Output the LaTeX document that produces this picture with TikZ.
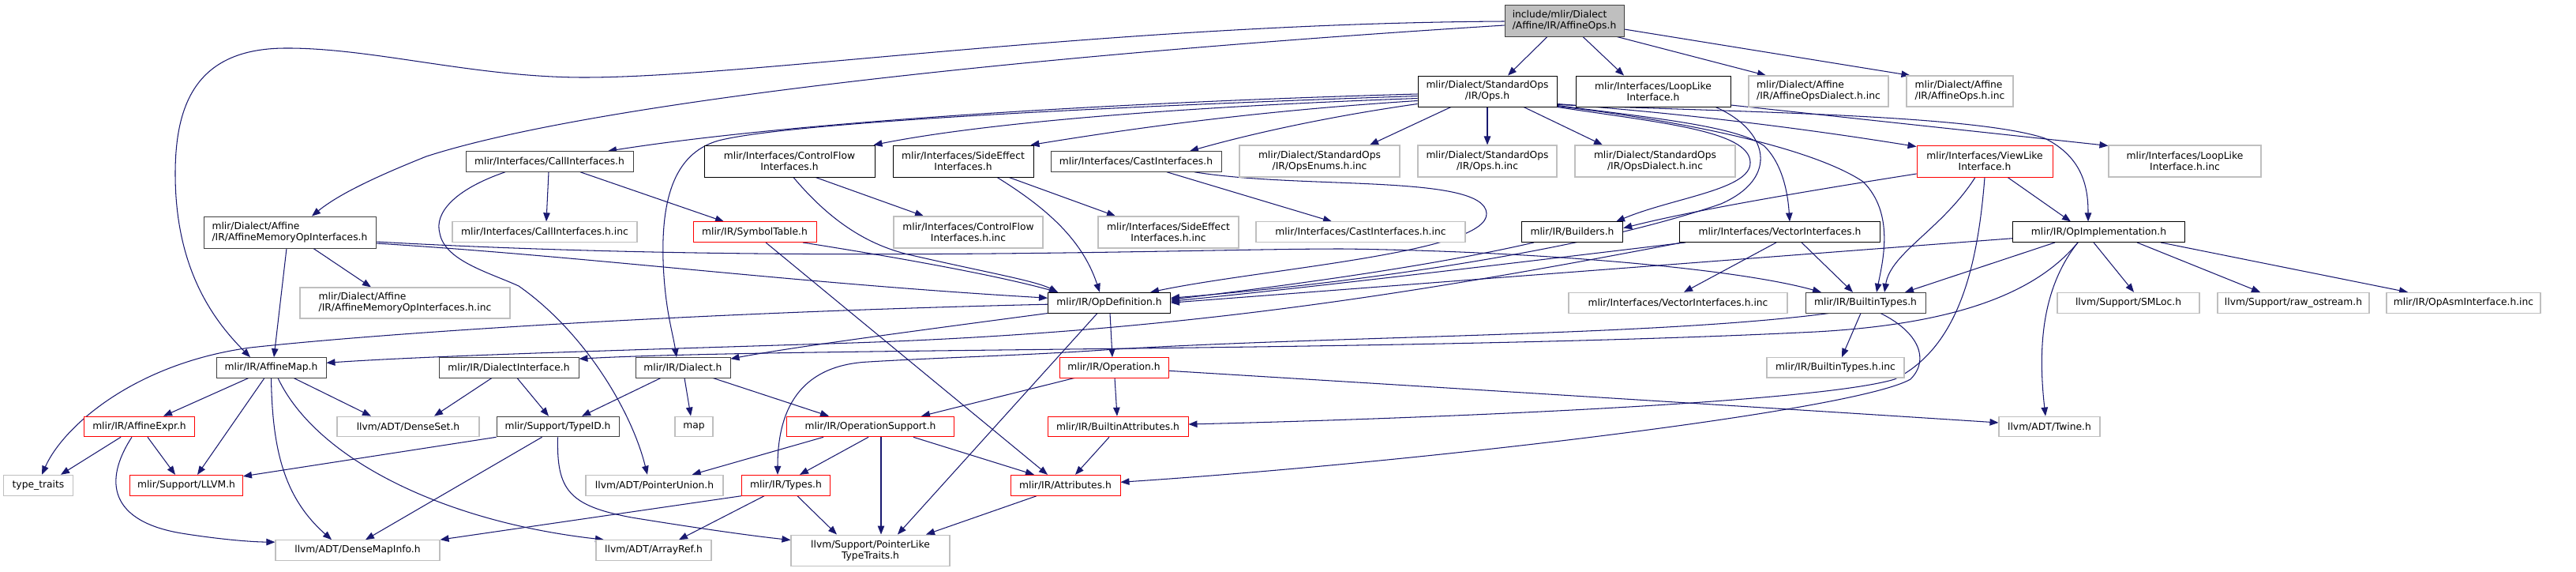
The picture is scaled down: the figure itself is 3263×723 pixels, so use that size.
\documentclass[tikz,border=0pt]{standalone}
\usepackage{fontspec}
\setmainfont{DejaVu Sans}
\usetikzlibrary{arrows.meta}
\definecolor{edgec}{HTML}{191970}
\definecolor{grayb}{HTML}{BFBFBF}
\definecolor{darkb}{HTML}{404040}
\pgfdeclarelayer{bglayer}
\pgfdeclarelayer{edgelayer}
\pgfsetlayers{bglayer,edgelayer,main}
\begin{document}
\begin{tikzpicture}[x=1pt,y=-1pt,
  box/.style={rectangle, inner sep=0pt, line width=0.9pt, fill=white, text=black,
    font=\fontsize{12.3}{14}\selectfont, align=center},
  blk/.style={box, draw=black},
  dkb/.style={box, draw=darkb},
  gry/.style={box, draw=grayb, line width=1.1pt},
  rdb/.style={box, draw=red},
  e/.style={draw=edgec, line width=1.05pt, -{Triangle[length=11pt,width=8.5pt]}}]
\useasboundingbox (0,0) rectangle (3263,723);
\begin{pgfonlayer}{bglayer}
\fill[white] (0,0) rectangle (3263,723);
\end{pgfonlayer}

% row 0
\node[dkb, fill=grayb, minimum width=151pt, minimum height=40pt, align=left] (root) at (1981.5,26) {include/mlir/Dialect\\/Affine/IR/AffineOps.h};
% row 1
\node[blk, minimum width=176pt, minimum height=39pt] (ops) at (1884,115.5) {mlir/Dialect/StandardOps\\/IR/Ops.h};
\node[blk, minimum width=196pt, minimum height=39pt] (looplike) at (2094,115.5) {mlir/Interfaces/LoopLike\\Interface.h};
\node[gry, minimum width=177pt, minimum height=39pt, align=left] (affdialinc) at (2303.5,115.5) {mlir/Dialect/Affine\\/IR/AffineOpsDialect.h.inc};
\node[gry, minimum width=135pt, minimum height=39pt, align=left] (affopsinc) at (2482.5,115.5) {mlir/Dialect/Affine\\/IR/AffineOps.h.inc};
% row 2
\node[dkb, minimum width=212pt, minimum height=25.6pt] (callif) at (696,204.5) {mlir/Interfaces/CallInterfaces.h};
\node[blk, minimum width=216pt, minimum height=40pt] (cfif) at (1000,204) {mlir/Interfaces/ControlFlow\\Interfaces.h};
\node[blk, minimum width=178pt, minimum height=40pt] (seif) at (1220,204) {mlir/Interfaces/SideEffect\\Interfaces.h};
\node[dkb, minimum width=216pt, minimum height=25.6pt] (castif) at (1439,204.5) {mlir/Interfaces/CastInterfaces.h};
\node[gry, minimum width=203pt, minimum height=40pt] (enumsinc) at (1671.5,204) {mlir/Dialect/StandardOps\\/IR/OpsEnums.h.inc};
\node[gry, minimum width=176pt, minimum height=40pt] (opsinc) at (1884,204) {mlir/Dialect/StandardOps\\/IR/Ops.h.inc};
\node[gry, minimum width=203pt, minimum height=40pt] (opsdialinc) at (2096.5,204) {mlir/Dialect/StandardOps\\/IR/OpsDialect.h.inc};
\node[rdb, minimum width=172pt, minimum height=40pt] (viewlike) at (2514,204) {mlir/Interfaces/ViewLike\\Interface.h};
\node[gry, minimum width=193pt, minimum height=40pt] (looplikeinc) at (2767.5,204) {mlir/Interfaces/LoopLike\\Interface.h.inc};
% row 3
\node[dkb, minimum width=218pt, minimum height=40pt, align=left] (affmem) at (367,294) {mlir/Dialect/Affine\\/IR/AffineMemoryOpInterfaces.h};
\node[gry, minimum width=234pt, minimum height=25.6pt] (callinc) at (690,293.7) {mlir/Interfaces/CallInterfaces.h.inc};
\node[rdb, minimum width=156pt, minimum height=25.6pt] (symtab) at (956,293.7) {mlir/IR/SymbolTable.h};
\node[gry, minimum width=189pt, minimum height=40pt] (cfinc) at (1226.5,294) {mlir/Interfaces/ControlFlow\\Interfaces.h.inc};
\node[gry, minimum width=178pt, minimum height=40pt] (seinc) at (1480,294) {mlir/Interfaces/SideEffect\\Interfaces.h.inc};
\node[gry, minimum width=265pt, minimum height=25.6pt] (castinc) at (1723.5,293.7) {mlir/Interfaces/CastInterfaces.h.inc};
\node[blk, minimum width=128.5pt, minimum height=25.6pt] (builders) at (1991.5,293.7) {mlir/IR/Builders.h};
\node[blk, minimum width=254.5pt, minimum height=25.6pt] (vecif) at (2254.5,293.7) {mlir/Interfaces/VectorInterfaces.h};
\node[blk, minimum width=217.5pt, minimum height=25.6pt] (opimpl) at (2658.5,293.7) {mlir/IR/OpImplementation.h};
% row 4
\node[gry, minimum width=266pt, minimum height=39pt, align=left] (affmeminc) at (513,383.5) {mlir/Dialect/Affine\\/IR/AffineMemoryOpInterfaces.h.inc};
\node[blk, minimum width=155pt, minimum height=25.7pt] (opdef) at (1405,383.2) {mlir/IR/OpDefinition.h};
\node[gry, minimum width=277pt, minimum height=25.7pt] (vecinc) at (2125.5,383.2) {mlir/Interfaces/VectorInterfaces.h.inc};
\node[dkb, minimum width=152pt, minimum height=25.7pt] (builtintypes) at (2363,383.2) {mlir/IR/BuiltinTypes.h};
\node[gry, minimum width=180pt, minimum height=25.7pt] (smloc) at (2696,383.2) {llvm/Support/SMLoc.h};
\node[gry, minimum width=192pt, minimum height=25.7pt] (rawos) at (2905,383.2) {llvm/Support/raw\_ostream.h};
\node[gry, minimum width=195pt, minimum height=25.7pt] (opasminc) at (3120.5,383.2) {mlir/IR/OpAsmInterface.h.inc};
% row 5
\node[dkb, minimum width=139pt, minimum height=25.4pt] (affmap) at (343.5,465.3) {mlir/IR/AffineMap.h};
\node[dkb, minimum width=177pt, minimum height=25.4pt] (dialif) at (644.5,465.3) {mlir/IR/DialectInterface.h};
\node[dkb, minimum width=120pt, minimum height=25.4pt] (dialect) at (865,465.3) {mlir/IR/Dialect.h};
\node[rdb, minimum width=138pt, minimum height=25.4pt] (operation) at (1411,465.3) {mlir/IR/Operation.h};
\node[gry, minimum width=174pt, minimum height=25.4pt] (btinc) at (2325,465.3) {mlir/IR/BuiltinTypes.h.inc};
% row 6
\node[rdb, minimum width=139.5pt, minimum height=25.7pt] (affexpr) at (176.5,540) {mlir/IR/AffineExpr.h};
\node[gry, minimum width=180pt, minimum height=25.7pt] (denseset) at (517,540) {llvm/ADT/DenseSet.h};
\node[dkb, minimum width=155pt, minimum height=25.7pt] (typeid) at (706.5,540) {mlir/Support/TypeID.h};
\node[gry, minimum width=48pt, minimum height=25.7pt] (map) at (879,540) {map};
\node[rdb, minimum width=212.5pt, minimum height=25.7pt] (opsupport) at (1102.5,540) {mlir/IR/OperationSupport.h};
\node[rdb, minimum width=178pt, minimum height=25.7pt] (battr) at (1416,540) {mlir/IR/BuiltinAttributes.h};
\node[gry, minimum width=128pt, minimum height=25.7pt] (twine) at (2596,540) {llvm/ADT/Twine.h};
% row 7
\node[gry, minimum width=87.5pt, minimum height=26pt] (typetraits) at (48.5,614.3) {type\_traits};
\node[rdb, minimum width=143pt, minimum height=26pt] (llvmh) at (236,614.3) {mlir/Support/LLVM.h};
\node[gry, minimum width=174pt, minimum height=26pt] (ptrunion) at (829,614.3) {llvm/ADT/PointerUnion.h};
\node[rdb, minimum width=112.5pt, minimum height=26pt] (types) at (995.5,614.3) {mlir/IR/Types.h};
\node[rdb, minimum width=139pt, minimum height=26pt] (attrs) at (1349.5,614.3) {mlir/IR/Attributes.h};
% row 8
\node[gry, minimum width=208pt, minimum height=25.6pt] (densemapinfo) at (453,696.5) {llvm/ADT/DenseMapInfo.h};
\node[gry, minimum width=146pt, minimum height=25.6pt] (arrayref) at (828,696.5) {llvm/ADT/ArrayRef.h};
\node[gry, minimum width=201pt, minimum height=39.3pt] (ptrlike) at (1102.5,696.7) {llvm/Support/PointerLike\\TypeTraits.h};

\begin{pgfonlayer}{edgelayer}
% root
\draw[e] ([xshift=-21.5pt]root.south) -- ([xshift=26pt]ops.north);
\draw[e] ([xshift=23.5pt]root.south) -- ([xshift=-37pt]looplike.north);
\draw[e] ([xshift=66.5pt]root.south) -- ([xshift=-66.5pt]affdialinc.north);
\draw[e] ([yshift=-11pt]root.east) -- ([xshift=5pt]affopsinc.north west);
\draw[e] ([yshift=-1pt]root.west) .. controls (1400,30) and (950,98) .. (740,98) .. controls (600,98) and (470,60) .. (360,61) .. controls (250,62) and (222,130) .. (222,220) .. controls (222,340) and (270,405) .. ([xshift=-26.5pt]affmap.north);
\draw[e] ([yshift=-6pt]root.west) .. controls (1300,70) and (750,130) .. (540,198) .. controls (480,222) and (430,245) .. ([xshift=28pt]affmem.north);
% ops
\draw[e] ([yshift=-3.5pt]ops.west) .. controls (1400,130) and (1000,155) .. ([xshift=74pt]callif.north);
\draw[e] ([yshift=-6pt]ops.west) .. controls (1400,135) and (1000,155) .. (910,178) .. controls (850,195) and (838,260) .. (840,330) .. controls (842,390) and (852,420) .. ([xshift=-8pt]dialect.north);
\draw[e] ([yshift=-9pt]ops.west) .. controls (1500,135) and (1250,155) .. ([xshift=-2pt]cfif.north east);
\draw[e] ([yshift=-12pt]ops.west) .. controls (1600,140) and (1450,160) .. ([xshift=-4pt]seif.north east);
\draw[e] ([yshift=-16pt]ops.west) .. controls (1700,145) and (1600,165) .. ([xshift=68pt]castif.north);
\draw[e] ([xshift=-46pt]ops.south) -- ([xshift=63.5pt]enumsinc.north);
\draw[e] (ops.south) -- (opsinc.north);
\draw[e] ([xshift=46pt]ops.south) -- ([xshift=-66.5pt]opsdialinc.north);
\draw[e] ([yshift=-16pt]ops.east) .. controls (2150,145) and (2300,165) .. ([yshift=-2pt]viewlike.north west);
\draw[e] ([yshift=-17pt]ops.east) .. controls (2200,142) and (2500,145) .. (2590,175) .. controls (2640,200) and (2645,240) .. ([xshift=-13.5pt]opimpl.north);
\draw[e] ([yshift=-18pt]ops.east) .. controls (2100,150) and (2200,160) .. (2235,185) .. controls (2260,210) and (2265,250) .. ([xshift=12.5pt]vecif.north);
\draw[e] ([yshift=-19pt]ops.east) .. controls (2150,155) and (2300,190) .. (2360,230) .. controls (2400,270) and (2385,330) .. ([xshift=14pt]builtintypes.north);
\draw[e] (ops.south east) .. controls (2100,155) and (2215,165) .. (2217,205) .. controls (2219,240) and (2120,250) .. ([xshift=55.5pt]builders.north);
% looplike
\draw[e] ([yshift=-17.5pt]looplike.east) -- ([yshift=-1pt]looplikeinc.north west);
\draw[e] ([xshift=79pt]looplike.south) .. controls (2240,165) and (2255,225) .. (2180,258) .. controls (2000,320) and (1700,360) .. ([yshift=6pt]opdef.east);
% callif
\draw[e] ([xshift=-1pt]callif.south) -- ([xshift=2pt]callinc.north);
\draw[e] ([xshift=39pt]callif.south) -- ([xshift=-39pt]symtab.north);
\draw[e] ([xshift=-56pt]callif.south) .. controls (575,240) and (550,270) .. (557,295) .. controls (563,330) and (620,345) .. (657,362) .. controls (740,420) and (800,520) .. ([xshift=-9pt]ptrunion.north);
% cfif, seif, castif
\draw[e] ([xshift=33pt]cfif.south) -- ([xshift=-56.5pt]cfinc.north);
\draw[e] ([xshift=5pt]cfif.south) .. controls (1060,290) and (1110,312) .. (1150,322) .. controls (1250,345) and (1310,355) .. ([xshift=-65pt]opdef.north);
\draw[e] ([xshift=58pt]seif.south) -- ([xshift=-67pt]seinc.north);
\draw[e] ([xshift=43pt]seif.south) .. controls (1320,260) and (1370,300) .. ([xshift=-12pt]opdef.north);
\draw[e] ([xshift=39pt]castif.south) -- ([xshift=-36.5pt]castinc.north);
\draw[e] ([xshift=74pt]castif.south) .. controls (1650,240) and (1880,220) .. (1883,270) .. controls (1886,320) and (1600,340) .. ([xshift=52pt]opdef.north);
% symtab
\draw[e] ([xshift=61pt]symtab.south) .. controls (1100,320) and (1250,345) .. ([xshift=-65pt]opdef.north);
\draw[e] ([xshift=14pt]symtab.south) -- ([xshift=-22.5pt]attrs.north);
% affmem
\draw[e] ([xshift=-4pt]affmem.south) -- ([xshift=3.5pt]affmap.north);
\draw[e] ([xshift=30pt]affmem.south) -- ([xshift=-43pt]affmeminc.north);
\draw[e] ([yshift=-14pt]affmem.east) .. controls (750,325) and (1000,358) .. ([yshift=6pt]opdef.west);
\draw[e] ([yshift=-12pt]affmem.east) .. controls (1000,335) and (1500,315) .. (1700,315) .. controls (1950,318) and (2200,340) .. ([xshift=-56pt]builtintypes.north);
% builders, vecif
\draw[e] ([xshift=-48.5pt]builders.south) .. controls (1800,340) and (1600,365) .. ([yshift=4pt]opdef.east);
\draw[e] ([xshift=-4.5pt]vecif.south) -- ([xshift=7.5pt]vecinc.north);
\draw[e] ([xshift=27.5pt]vecif.south) -- ([xshift=-16pt]builtintypes.north);
\draw[e] ([xshift=8pt]vecif.south west) .. controls (1900,335) and (1650,365) .. ([yshift=2pt]opdef.east);
\draw[e] ([xshift=4pt]vecif.south west) .. controls (1800,370) and (1500,420) .. (1080,434) .. controls (800,443) and (550,450) .. ([yshift=6pt]affmap.east);
% viewlike
\draw[e] ([yshift=-16pt]viewlike.west) .. controls (2300,240) and (2150,265) .. ([yshift=5pt]builders.east);
\draw[e] ([xshift=-12pt]viewlike.south) .. controls (2460,290) and (2395,320) .. ([xshift=24pt]builtintypes.north);
\draw[e] (viewlike.south) .. controls (2505,340) and (2480,440) .. (2400,480) .. controls (2300,510) and (1800,530) .. ([yshift=3pt]battr.east);
\draw[e] ([xshift=29pt]viewlike.south) -- ([xshift=-35.5pt]opimpl.north);
% opimpl
\draw[e] ([yshift=-8pt]opimpl.west) -- (opdef.east);
\draw[e] ([xshift=-55.5pt]opimpl.south) -- ([xshift=50pt]builtintypes.north);
\draw[e] ([xshift=-26.5pt]opimpl.south) .. controls (2580,370) and (2480,410) .. (2300,420) .. controls (1800,445) and (1000,440) .. ([yshift=-2pt]dialif.north east);
\draw[e] ([xshift=-26.5pt]opimpl.south) .. controls (2590,360) and (2580,430) .. ([xshift=-5pt]twine.north);
\draw[e] ([xshift=-6.5pt]opimpl.south) -- ([xshift=7pt]smloc.north);
\draw[e] ([xshift=48.5pt]opimpl.south) -- ([xshift=-42pt]rawos.north);
\draw[e] ([xshift=78.5pt]opimpl.south) -- ([xshift=-70.5pt]opasminc.north);
% builtintypes
\draw[e] ([xshift=-46pt]builtintypes.south) .. controls (2100,425) and (1700,425) .. (1413,442) .. controls (1300,450) and (1200,452) .. (1100,458) .. controls (1020,462) and (985,510) .. ([xshift=-10.5pt]types.north);
\draw[e] ([xshift=19pt]builtintypes.south) .. controls (2430,420) and (2445,455) .. (2420,480) .. controls (2350,520) and (1800,585) .. ([yshift=4pt]attrs.east);
\draw[e] ([xshift=-6pt]builtintypes.south) -- ([xshift=8pt]btinc.north);
% opdef
\draw[e] ([xshift=1pt]opdef.south) -- ([xshift=-2pt]operation.north);
\draw[e] ([xshift=-15pt]opdef.south) -- ([xshift=34.5pt]ptrlike.north);
\draw[e] ([yshift=-2pt]opdef.west) .. controls (900,395) and (500,420) .. (317,440) .. controls (170,460) and (80,540) .. ([xshift=4.5pt]typetraits.north);
\draw[e] (opdef.south west) .. controls (1150,420) and (1000,440) .. ([yshift=-2pt]dialect.north east);
% operation
\draw[e] ([xshift=-50pt]operation.south) -- ([xshift=64.5pt]opsupport.north);
\draw[e] ([xshift=1pt]operation.south) -- ([xshift=-1pt]battr.north);
\draw[e] ([yshift=-4pt]operation.east) .. controls (1900,495) and (2300,520) .. ([yshift=5pt]twine.west);
% dialect, dialif
\draw[e] ([xshift=-28pt]dialect.south) -- ([xshift=30.5pt]typeid.north);
\draw[e] ([xshift=2pt]dialect.south) -- ([xshift=-4pt]map.north);
\draw[e] ([xshift=38pt]dialect.south) -- ([xshift=-52.5pt]opsupport.north);
\draw[e] ([xshift=-21.5pt]dialif.south) -- ([xshift=33pt]denseset.north);
\draw[e] ([xshift=10.5pt]dialif.south) -- ([xshift=-11.5pt]typeid.north);
% affmap
\draw[e] ([xshift=-28.5pt]affmap.south) -- ([xshift=30.5pt]affexpr.north);
\draw[e] ([xshift=-8.5pt]affmap.south) -- ([xshift=14pt]llvmh.north);
\draw[e] (affmap.south) .. controls (345,570) and (360,630) .. ([xshift=-33pt]densemapinfo.north);
\draw[e] ([xshift=8.5pt]affmap.south) .. controls (400,580) and (560,660) .. ([xshift=-63pt]arrayref.north);
\draw[e] ([xshift=28.5pt]affmap.south) -- ([xshift=-47pt]denseset.north);
% affexpr
\draw[e] ([xshift=-23.5pt]affexpr.south) -- ([xshift=28.5pt]typetraits.north);
\draw[e] ([xshift=10.5pt]affexpr.south) -- ([xshift=-14pt]llvmh.north);
\draw[e] ([xshift=-9.5pt]affexpr.south) .. controls (130,610) and (140,660) .. (230,675) .. controls (280,683) and (320,686) .. ([yshift=-3pt]densemapinfo.north west);
% typeid
\draw[e] (typeid.south west) -- ([yshift=-2pt]llvmh.north east);
\draw[e] ([xshift=-20pt]typeid.south) -- ([xshift=10pt]densemapinfo.north);
\draw[e] (typeid.south) .. controls (705,620) and (720,640) .. (800,655) .. controls (880,668) and (950,678) .. ([yshift=-7pt]ptrlike.north west);
% opsupport
\draw[e] ([xshift=-59.5pt]opsupport.south) -- ([xshift=47.7pt]ptrunion.north);
\draw[e] ([xshift=-2.5pt]opsupport.south) -- ([xshift=17.5pt]types.north);
\draw[e] ([xshift=13.5pt]opsupport.south) -- ([xshift=13.5pt]ptrlike.north);
\draw[e] ([xshift=54.5pt]opsupport.south) -- ([xshift=-39.5pt]attrs.north);
% battr, types, attrs
\draw[e] ([xshift=-11pt]battr.south) -- ([xshift=12.5pt]attrs.north);
\draw[e] (types.south west) -- (densemapinfo.north east);
\draw[e] ([xshift=-27.5pt]types.south) -- ([xshift=32pt]arrayref.north);
\draw[e] ([xshift=14.5pt]types.south) -- ([xshift=-42.5pt]ptrlike.north);
\draw[e] ([xshift=-36.5pt]attrs.south) -- ([xshift=70.5pt]ptrlike.north);
\end{pgfonlayer}
\end{tikzpicture}
\end{document}
